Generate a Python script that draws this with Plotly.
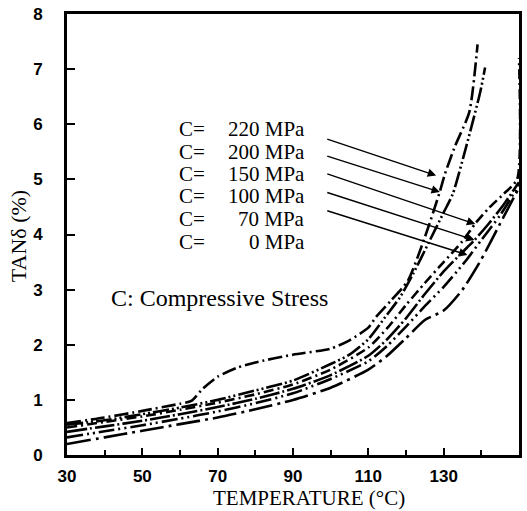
import plotly.graph_objects as go

# ---- data (temperature in °C, tan delta in %) ----
stress_labels = ["220", "200", "150", "100", "70", "0"]

t_220 = [30, 40, 50, 60, 63, 66, 70, 75, 80, 90, 100, 105, 110, 112, 116, 120.5, 125, 129, 130.3, 133, 136.8, 139]
y_220 = [0.58, 0.68, 0.80, 0.93, 0.98, 1.20, 1.42, 1.58, 1.68, 1.82, 1.93, 2.08, 2.31, 2.50, 2.80, 3.16, 3.95, 4.78, 5.09, 5.60, 6.22, 7.45]

t_200 = [30, 40, 50, 60, 70, 80, 90, 100, 105, 110, 115, 118.4, 122, 126, 130, 132.4, 136, 139.7, 141]
y_200 = [0.55, 0.63, 0.74, 0.86, 1.00, 1.17, 1.35, 1.65, 1.82, 2.10, 2.55, 2.86, 3.30, 3.85, 4.40, 4.73, 5.60, 6.58, 7.03]

t_150 = [30, 40, 50, 60, 70, 80, 90, 100, 110, 115, 120, 125, 130, 135, 138.4, 142, 146, 149.5, 150]
y_150 = [0.50, 0.60, 0.70, 0.82, 0.95, 1.10, 1.28, 1.55, 1.95, 2.30, 2.72, 3.12, 3.50, 3.88, 4.20, 4.48, 4.74, 5.00, 7.20]

t_100 = [30, 40, 50, 60, 70, 80, 90, 100, 110, 115, 120, 125, 130, 135, 138.2, 142, 146, 150]
y_100 = [0.42, 0.52, 0.62, 0.74, 0.87, 1.02, 1.20, 1.45, 1.80, 2.10, 2.48, 2.92, 3.33, 3.68, 3.90, 4.20, 4.55, 4.95]

t_70 = [30, 40, 50, 60, 70, 80, 90, 100, 110, 115, 120, 125, 130, 135, 136.3, 140, 145, 150]
y_70 = [0.32, 0.43, 0.54, 0.66, 0.79, 0.94, 1.12, 1.38, 1.70, 1.98, 2.33, 2.70, 3.05, 3.45, 3.56, 3.90, 4.35, 4.90]

t_0 = [30, 40, 50, 60, 70, 80, 90, 100, 110, 115, 120, 125, 130, 135, 140, 145, 150]
y_0 = [0.20, 0.32, 0.44, 0.56, 0.68, 0.83, 1.00, 1.22, 1.55, 1.80, 2.12, 2.45, 2.62, 3.00, 3.55, 4.20, 4.85]

# arrow targets on the curves (temperature, tan delta) for 220, 200, 150, 100, 70 MPa
arrow_t = [128.0, 129.0, 138.4, 138.2, 136.3]
arrow_y = [5.07, 4.77, 4.19, 3.90, 3.63]

x_tick_vals = [30, 50, 70, 90, 110, 130, 150]
y_tick_vals = [0, 1, 2, 3, 4, 5, 6, 7, 8]

curves = [
    (t_220, y_220, "14px,4px,2px,4px"),
    (t_200, y_200, "16px,3px,2px,3px,2px,3px"),
    (t_150, y_150, "10px,4px,2px,4px"),
    (t_100, y_100, "20px,3px,2px,3px"),
    (t_70, y_70, "16px,4px,2px,4px,2px,4px"),
    (t_0, y_0, "24px,5px,3px,5px"),
]

fig = go.Figure()
for (tx, ty, dash), lab in zip(curves, stress_labels):
    fig.add_trace(go.Scatter(
        x=tx, y=ty, mode="lines", name=f"C={lab} MPa",
        line=dict(color="black", width=2.6, dash=dash, shape="spline", smoothing=0.6),
        showlegend=False,
    ))

serif = "Liberation Serif"
annotations = []

# stress labels: "C=" left part and value right-aligned
label_y = [5.92, 5.50, 5.09, 4.69, 4.28, 3.87]
for lab, ly in zip(stress_labels, label_y):
    annotations.append(dict(x=59.5, y=ly, xref="x", yref="y", text="C=",
                            showarrow=False, xanchor="left", yanchor="middle",
                            borderpad=0,
                            font=dict(family=serif, size=21, color="black")))
    annotations.append(dict(x=93.4, y=ly, xref="x", yref="y", text=f"{lab} MPa",
                            showarrow=False, xanchor="right", yanchor="middle",
                            borderpad=0,
                            font=dict(family=serif, size=21, color="black")))

# arrows from labels to curves
arrow_tail_y = [5.74, 5.43, 5.11, 4.77, 4.44]
for ht, hy, ty in zip(arrow_t, arrow_y, arrow_tail_y):
    annotations.append(dict(x=ht, y=hy, ax=98.7, ay=ty, xref="x", yref="y",
                            axref="x", ayref="y", text="", showarrow=True,
                            arrowhead=2, arrowsize=1.2, arrowwidth=1.4,
                            arrowcolor="black", standoff=0))

annotations.append(dict(x=41.1, y=2.84, xref="x", yref="y", text="C: Compressive Stress",
                        showarrow=False, xanchor="left", yanchor="middle",
                        font=dict(family=serif, size=24, color="black")))

annotations.append(dict(x=0.536, y=-0.097, xref="paper", yref="paper",
                        text="TEMPERATURE (°C)", showarrow=False,
                        xanchor="center", yanchor="middle",
                        font=dict(family=serif, size=21, color="black")))
annotations.append(dict(x=-0.1055, y=0.497, xref="paper", yref="paper",
                        text="TANδ (%)", showarrow=False, textangle=-90,
                        xanchor="center", yanchor="middle",
                        font=dict(family=serif, size=22, color="black")))

tickfont = dict(family="Liberation Sans", size=17, color="black", weight="bold")

fig.update_layout(
    width=527, height=511,
    margin=dict(l=67, r=5, t=10, b=56),
    paper_bgcolor="white", plot_bgcolor="white",
    annotations=annotations,
    xaxis=dict(range=[30, 150], tickvals=x_tick_vals, ticks="inside", ticklen=7,
               tickwidth=2, tickcolor="black", showline=True, linecolor="black",
               linewidth=2.6, mirror=True, showgrid=False, zeroline=False,
               tickfont=tickfont, ticklabelstandoff=4,
               minor=dict(dtick=10, tick0=30, ticks="inside", ticklen=5,
                          tickwidth=2, tickcolor="black", showgrid=False)),
    yaxis=dict(range=[0, 8], tickvals=y_tick_vals, ticks="inside", ticklen=8,
               tickwidth=2, tickcolor="black", showline=True, linecolor="black",
               linewidth=2.6, mirror=True, showgrid=False, zeroline=False,
               tickfont=tickfont, ticklabelstandoff=18),
)

fig.write_html("out.html")
